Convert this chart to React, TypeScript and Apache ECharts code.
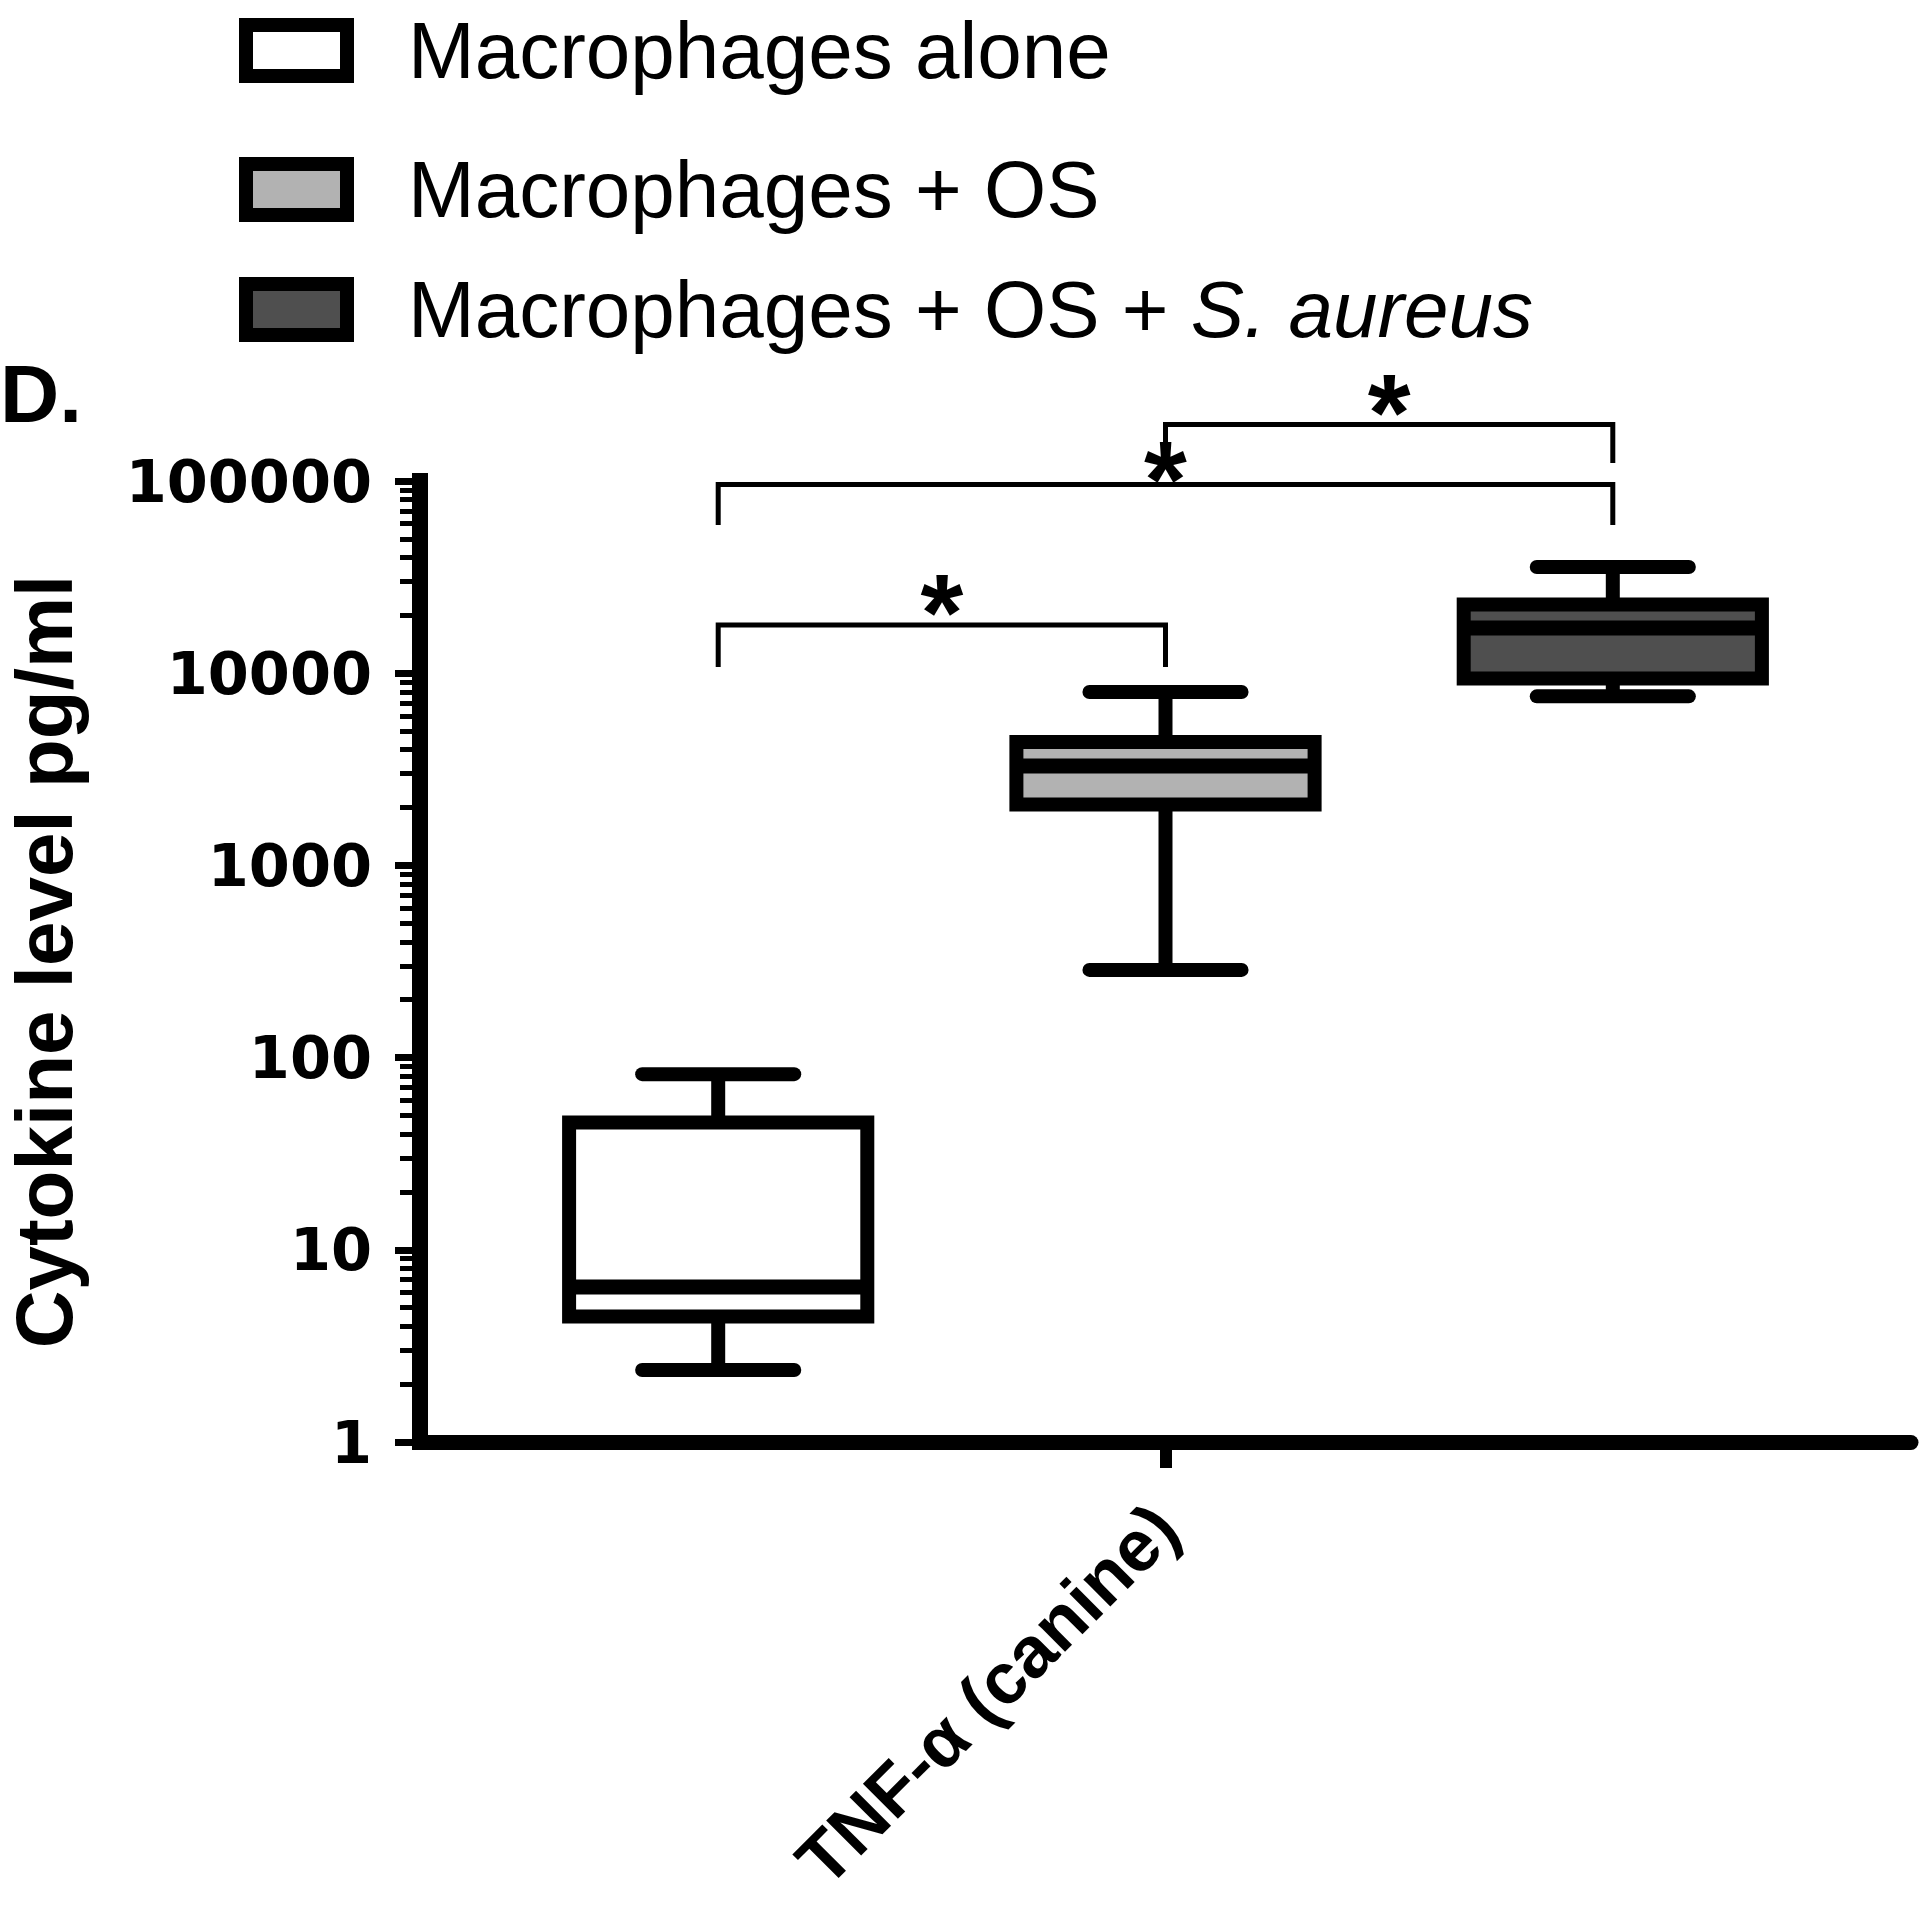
import React, { useEffect, useRef } from 'react';
import * as echarts from 'echarts';

// ---------------- data ----------------
const categories = ['TNF-α (canine)'];
const groupNames = ['Macrophages alone', 'Macrophages + OS', 'Macrophages + OS + S. aureus'];
const groupColors = ['#ffffff', '#b2b2b2', '#4f4f4f'];
// [min, Q1, median, Q3, max]
const aloneValues = [2.37, 4.5, 6.4, 46, 82];
const osValues = [286, 2075, 3290, 4385, 7980];
const osSaValues = [7580, 9380, 17180, 22760, 35700];
const groupValues = [aloneValues, osValues, osSaValues];

const yMajorTicks = [1, 10, 100, 1000, 10000, 100000];
const yTickLabels = ['1', '10', '100', '1000', '10000', '100000'];
const yMinorTicks = [
  2, 3, 4, 5, 6, 7, 8, 9,
  20, 30, 40, 50, 60, 70, 80, 90,
  200, 300, 400, 500, 600, 700, 800, 900,
  2000, 3000, 4000, 5000, 6000, 7000, 8000, 9000,
  20000, 30000, 40000, 50000, 60000, 70000, 80000, 90000,
];

// significance brackets
const sigFrom = [0, 0, 1];
const sigTo = [1, 2, 2];
const sigBarLevel = [17820, 95900, 196800];
const sigLegLevel = [10770, 59030, 124100];
const sigLabels = ['*', '*', '*'];

// ---------------- layout constants ----------------
const GROUP_OFFSETS = [-0.3, 0, 0.3]; // fraction of band width
const BOX_HALF = 0.1;
const CAP_HALF = 0.051;
const LW = 14;
const STAR_GAP = [13, 6, 13]; // px offset of asterisk above its bracket bar
const SANS = "'Liberation Sans', Arial, Helvetica, sans-serif";

export default function App() {
  const ref = useRef<HTMLDivElement>(null);

  useEffect(() => {
    if (!ref.current) return;
    const chart = echarts.init(ref.current, null, { renderer: 'svg' });

    const boxSeries = groupNames.map((name, gi) => ({
      type: 'custom',
      name,
      data: [[0, ...groupValues[gi]]],
      encode: { x: 0, y: [1, 2, 3, 4, 5] },
      itemStyle: { color: groupColors[gi] },
      clip: false,
      z: 3,
      renderItem: (params: any, api: any) => {
        const band = api.size([1, 1], [0, 10])[0];
        const cx = api.coord([api.value(0), 10])[0] + GROUP_OFFSETS[gi] * band;
        const y = (i: number) => api.coord([api.value(0), api.value(i)])[1];
        const yMin = y(1), yQ1 = y(2), yMed = y(3), yQ3 = y(4), yMax = y(5);
        const bh = BOX_HALF * band;
        const ch = CAP_HALF * band;
        const st = { stroke: '#000', lineWidth: LW, fill: null };
        return {
          type: 'group',
          children: [
            { type: 'line', shape: { x1: cx, y1: yQ3, x2: cx, y2: yMax }, style: { ...st, lineCap: 'butt' } },
            { type: 'line', shape: { x1: cx, y1: yQ1, x2: cx, y2: yMin }, style: { ...st, lineCap: 'butt' } },
            { type: 'line', shape: { x1: cx - ch, y1: yMax, x2: cx + ch, y2: yMax }, style: { ...st, lineCap: 'round' } },
            { type: 'line', shape: { x1: cx - ch, y1: yMin, x2: cx + ch, y2: yMin }, style: { ...st, lineCap: 'round' } },
            {
              type: 'rect',
              shape: { x: cx - bh, y: yQ3, width: 2 * bh, height: yQ1 - yQ3 },
              style: { fill: groupColors[gi], stroke: '#000', lineWidth: LW, lineJoin: 'miter' },
            },
            { type: 'line', shape: { x1: cx - bh, y1: yMed, x2: cx + bh, y2: yMed }, style: { ...st, lineWidth: 15, lineCap: 'butt' } },
          ],
        };
      },
    }));

    const bracketData = sigFrom.map((f, i) => [0, sigBarLevel[i], sigLegLevel[i], f, sigTo[i], i]);

    const bracketSeries = {
      type: 'custom',
      name: 'significance',
      data: bracketData,
      encode: { x: 0, y: [1, 2] },
      clip: false,
      z: 4,
      renderItem: (params: any, api: any) => {
        const band = api.size([1, 1], [0, 10])[0];
        const c = api.coord([api.value(0), 10])[0];
        const x1 = c + GROUP_OFFSETS[api.value(3)] * band;
        const x2 = c + GROUP_OFFSETS[api.value(4)] * band;
        const yb = api.coord([api.value(0), api.value(1)])[1];
        const yl = api.coord([api.value(0), api.value(2)])[1];
        const idx = api.value(5);
        return {
          type: 'group',
          children: [
            {
              type: 'polyline',
              shape: { points: [[x1, yl], [x1, yb], [x2, yb], [x2, yl]] },
              style: { stroke: '#000', lineWidth: 5, fill: null, lineJoin: 'miter' },
            },
            {
              type: 'text',
              x: (x1 + x2) / 2,
              y: yb - STAR_GAP[idx],
              style: {
                text: sigLabels[idx],
                fontSize: 110,
                fontWeight: 'bold',
                fontFamily: SANS,
                fill: '#000',
                align: 'center',
                verticalAlign: 'middle',
              },
            },
          ],
        };
      },
    };

    const legendBase = (name: string, top: number, formatter?: any) => ({
      data: [name],
      left: 239,
      top,
      padding: 0,
      orient: 'horizontal',
      icon: 'rect',
      itemWidth: 101,
      itemHeight: 51,
      selectedMode: false,
      itemStyle: { borderColor: '#000', borderWidth: LW },
      formatter,
      textStyle: {
        fontSize: 80,
        fontFamily: SANS,
        color: '#000',
        padding: [0, 0, 0, 56],
        rich: {
          n: { fontSize: 80, fontFamily: SANS, color: '#000' },
          i: { fontSize: 80, fontFamily: SANS, color: '#000', fontStyle: 'italic' },
        },
      },
    });

    const option: any = {
      animation: false,
      backgroundColor: '#ffffff',
      grid: { left: 420, top: 481, right: 9, bottom: 463, containLabel: false, outerBoundsMode: 'none' },
      legend: [
        legendBase(groupNames[0], 10.5),
        legendBase(groupNames[1], 149.5),
        legendBase(groupNames[2], 269.5, () => '{n|Macrophages + OS + }{i|S. aureus}'),
      ],
      xAxis: {
        type: 'category',
        data: categories,
        axisLine: { lineStyle: { color: '#000', width: 15 } },
        axisTick: { show: true, alignWithLabel: true, interval: 0, length: 26, lineStyle: { color: '#000', width: 12 } },
        axisLabel: {
          rotate: 45,
          margin: 74,
          fontSize: 72,
          fontWeight: 'bold',
          fontFamily: SANS,
          color: '#000',
          interval: 0,
        },
        splitLine: { show: false },
      },
      yAxis: [
        {
          type: 'log',
          logBase: 10,
          min: 1,
          max: 100000,
          name: 'Cytokine level pg/ml',
          nameLocation: 'middle',
          nameRotate: 90,
          nameGap: 336,
          nameTextStyle: { fontSize: 80, fontWeight: 'bold', fontFamily: SANS, color: '#000' },
          axisLine: { show: true, lineStyle: { color: '#000', width: 16, cap: 'square' } },
          axisTick: { show: true, length: 25, lineStyle: { color: '#000', width: 7 } },
          axisLabel: {
            margin: 48,
            fontSize: 59,
            fontWeight: 'bold',
            fontFamily: "'DejaVu Sans', sans-serif",
            color: '#000',
            formatter: (v: number) => {
              const idx = yMajorTicks.indexOf(Math.round(v));
              return idx >= 0 ? yTickLabels[idx] : String(Math.round(v));
            },
          },
          splitLine: { show: false },
        },
        {
          type: 'log',
          logBase: 10,
          min: 1,
          max: 100000,
          position: 'left',
          axisLine: { show: false },
          axisLabel: { show: false },
          axisTick: { show: true, length: 20, lineStyle: { color: '#000', width: 5 }, customValues: yMinorTicks },
          splitLine: { show: false },
        },
      ],
      graphic: [
        {
          type: 'text',
          left: 0,
          top: 352,
          style: { text: 'D.', fontSize: 82, fontWeight: 'bold', fontFamily: SANS, fill: '#000' },
        },
      ],
      series: [...boxSeries, bracketSeries],
    };

    chart.setOption(option);
    return () => chart.dispose();
  }, []);

  return (
    <div
      ref={ref}
      style={{ position: 'absolute', left: 0, top: 0, width: 1920, height: 1905, background: '#fff' }}
    />
  );
}
